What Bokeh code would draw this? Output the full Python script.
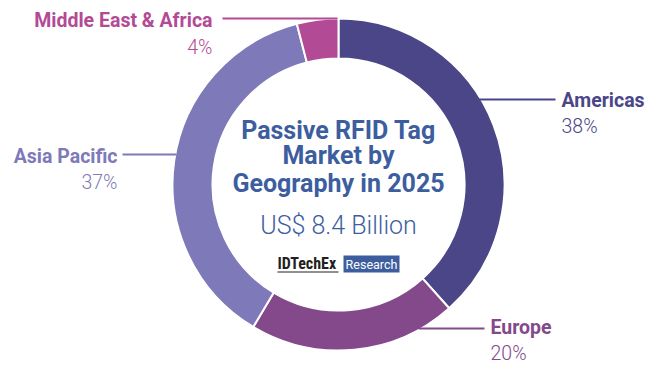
import numpy as np
import pandas as pd
from bokeh.plotting import figure
from bokeh.models import ColumnDataSource, Range1d
from bokeh.core.properties import value
from bokeh.embed import file_html
from bokeh.resources import INLINE

# ---- data ----
regions = ["Americas", "Europe", "Asia Pacific", "Middle East & Africa"]
shares = [38, 20, 37, 4]
pct_labels = ["38%", "20%", "37%", "4%"]
colors = ["#4b4688", "#83498a", "#7e79b8", "#b24a95"]
title_lines = ["Passive RFID Tag", "Market by", "Geography in 2025"]
subtitle = "US$ 8.4 Billion"

W, H = 659, 365
p = figure(width=W, height=H, output_backend="svg", toolbar_location=None,
           x_range=Range1d(0, W), y_range=Range1d(0, H), min_border=0)
p.axis.visible = False
p.grid.visible = False
p.outline_line_color = None
p.background_fill_color = None
p.border_fill_color = None


def Y(img_y):
    # layout positions given from the top edge
    return H - img_y


# donut
cx, cy, r_in, r_out = 338, Y(184), 126, 166
vals = np.array(shares, dtype=float)
frac_end = np.cumsum(vals) / vals.sum()
frac_start = frac_end - vals / vals.sum()
df = pd.DataFrame(dict(region=regions, color=colors,
                       start=np.pi / 2 - 2 * np.pi * frac_end,
                       end=np.pi / 2 - 2 * np.pi * frac_start))
src = ColumnDataSource(df)
p.annular_wedge(x=cx, y=cy, inner_radius=r_in, outer_radius=r_out,
                start_angle="start", end_angle="end", fill_color="color",
                line_color="white", line_width=2, source=src)

# leader lines + labels (positions from top edge)
lab = {
    "Americas": dict(line=([478, 555], 99), x=561, y1=99.5, y2=126, align="left"),
    "Europe": dict(line=([418, 484], 328), x=490, y1=327, y2=353, align="left"),
    "Asia Pacific": dict(line=([122, 176], 154), x=117, y1=155.5, y2=182, align="right"),
    "Middle East & Africa": dict(line=([222, 337], 18), x=212, y1=20, y2=47, align="right"),
}
for reg, pct, col in zip(regions, pct_labels, colors):
    d = lab[reg]
    p.line(d["line"][0], [Y(d["line"][1])] * 2, line_color=col, line_width=2)
    p.text(x=[d["x"]], y=[Y(d["y1"])], text=[reg], text_color=col, text_font=value("Roboto"),
           text_font_style="bold", text_font_size="19.5px", text_align=d["align"],
           text_baseline="middle")
    p.text(x=[d["x"]], y=[Y(d["y2"])], text=[pct], text_color=col, text_font=value("Roboto Light"),
           text_font_size="19.5px", text_align=d["align"], text_baseline="middle")

# center title
blue = "#3c5e9f"
p.text(x=[cx] * 3, y=[Y(130), Y(155), Y(183)], text=title_lines, text_color=blue,
       text_font=value("Roboto"), text_font_style="bold", text_font_size="25px",
       text_align="center", text_baseline="middle")
p.text(x=[cx], y=[Y(225)], text=[subtitle], text_color=blue, text_font=value("Roboto Light"),
       text_font_size="25px", text_align="center", text_baseline="middle")

# logo
p.text(x=[277], y=[Y(262.5)], text=["IDTechEx"], text_color="#231f20", text_font=value("Roboto Condensed"),
       text_font_style="bold", text_font_size="16px", text_align="left", text_baseline="middle")
p.line([277, 338], [Y(271.5)] * 2, line_color="#231f20", line_width=1)
p.quad(left=[343], right=[399], bottom=[Y(272)], top=[Y(255)], fill_color=blue, line_color=None)
p.text(x=[371], y=[Y(263.5)], text=["Research"], text_color="white", text_font=value("Roboto"),
       text_font_size="12.5px", text_align="center", text_baseline="middle")

open("out.html", "w").write(file_html(p, INLINE))
